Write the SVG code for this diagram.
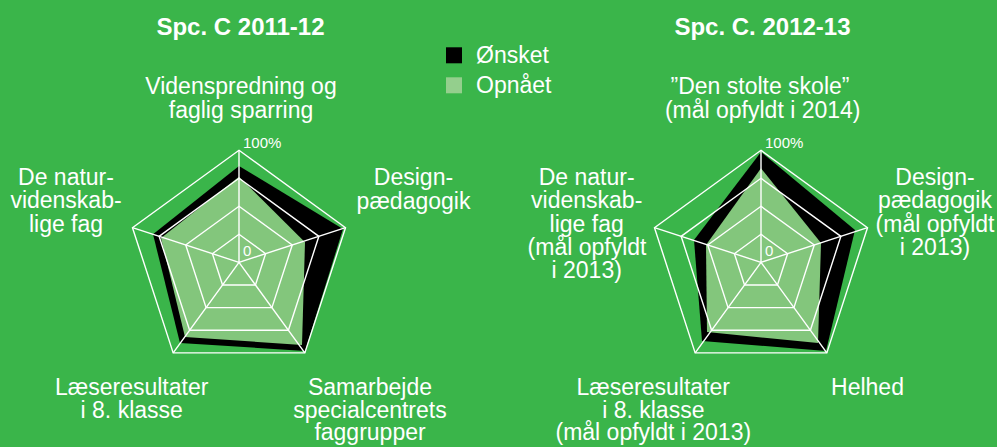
<svg xmlns="http://www.w3.org/2000/svg" xmlns:xlink="http://www.w3.org/1999/xlink" width="997" height="447" viewBox="0 0 997 447">
<style>
text{font-family:"Liberation Sans",Arial,Helvetica,sans-serif;fill:#fff;}
.t{font-size:24px;font-weight:bold;text-anchor:middle;}
.l{font-size:23px;text-anchor:middle;}
.lg{font-size:23px;}
.s{font-size:15px;}
.want{fill:#000;}
.got{fill:#83C67C;}
.grid{fill:none;stroke:#fff;stroke-width:1.4;stroke-linejoin:miter;}
</style>
<defs>
<g id="web" class="grid">
<path d="M0,-112 L106.52,-34.61 L65.83,90.61 L-65.83,90.61 L-106.52,-34.61 Z"/>
<path d="M0,-84 L79.89,-25.96 L49.38,67.96 L-49.38,67.96 L-79.89,-25.96 Z"/>
<path d="M0,-56 L53.26,-17.3 L32.92,45.3 L-32.92,45.3 L-53.26,-17.3 Z"/>
<path d="M0,-28 L26.63,-8.65 L16.46,22.65 L-16.46,22.65 L-26.63,-8.65 Z"/>
<path d="M0,0 L0,-112 M0,0 L106.52,-34.61 M0,0 L65.83,90.61 M0,0 L-65.83,90.61 M0,0 L-106.52,-34.61"/>
</g>
</defs>
<rect width="997" height="447" fill="#3AB54A"/>

<g id="legend">
<rect x="446" y="47.3" width="16" height="16" fill="#000"/>
<rect x="446" y="77.3" width="16" height="16" fill="#94CF8D"/>
<text class="lg" x="476" y="63.3">Ønsket</text>
<text class="lg" x="476" y="93.3">Opnået</text>
</g>

<g id="chart1" transform="translate(239,262.3)">
<polygon class="want" points="0,-96.3 104,-33.3 66,88.7 -59,80.7 -86,-28"/>
<polygon class="got" points="0,-85.6 66,-20 63,82.7 -54,74.7 -78,-24.3"/>
<use xlink:href="#web"/>
<text class="s" x="4" y="-114.6">100%</text>
<text class="s" x="4" y="-6.6">0</text>
</g>
<g id="chart1-labels">
<text class="t" x="240.5" y="35">Spc. C 2011-12</text>
<text class="l" x="241" y="94">Videnspredning og</text>
<text class="l" x="241" y="118.3">faglig sparring</text>
<text class="l" x="413.5" y="185">Design-</text>
<text class="l" x="413.5" y="208.5">pædagogik</text>
<text class="l" x="66" y="185">De natur-</text>
<text class="l" x="66" y="208.3">videnskab-</text>
<text class="l" x="66" y="231.7">lige fag</text>
<text class="l" x="131.7" y="395">Læseresultater</text>
<text class="l" x="131.7" y="418.3">i 8. klasse</text>
<text class="l" x="370" y="395">Samarbejde</text>
<text class="l" x="370" y="418.3">specialcentrets</text>
<text class="l" x="370" y="440">faggrupper</text>
</g>

<g id="chart2" transform="translate(761,262.3)">
<polygon class="want" points="0,-110.3 94,-32.3 65,88.7 -59,78.7 -67,-22.3"/>
<polygon class="got" points="0,-94 60,-19.3 57,80.7 -54,69.7 -55,-17.3"/>
<use xlink:href="#web"/>
<text class="s" x="4" y="-114.6">100%</text>
<text class="s" x="4" y="-6.6">0</text>
</g>
<g id="chart2-labels">
<text class="t" x="762.5" y="35">Spc. C. 2012-13</text>
<text class="l" x="760" y="94">”Den stolte skole”</text>
<text class="l" x="762.7" y="118">(mål opfyldt i 2014)</text>
<text class="l" x="935" y="185">Design-</text>
<text class="l" x="935" y="208.3">pædagogik</text>
<text class="l" x="935" y="231.7">(mål opfyldt</text>
<text class="l" x="935" y="255">i 2013)</text>
<text class="l" x="586.7" y="185">De natur-</text>
<text class="l" x="586.7" y="208.3">videnskab-</text>
<text class="l" x="586.7" y="231.7">lige fag</text>
<text class="l" x="587" y="255">(mål opfyldt</text>
<text class="l" x="586.7" y="278.3">i 2013)</text>
<text class="l" x="653.3" y="395">Læseresultater</text>
<text class="l" x="653.3" y="418.3">i 8. klasse</text>
<text class="l" x="653.3" y="440">(mål opfyldt i 2013)</text>
<text class="l" x="867.5" y="395">Helhed</text>
</g>
</svg>
